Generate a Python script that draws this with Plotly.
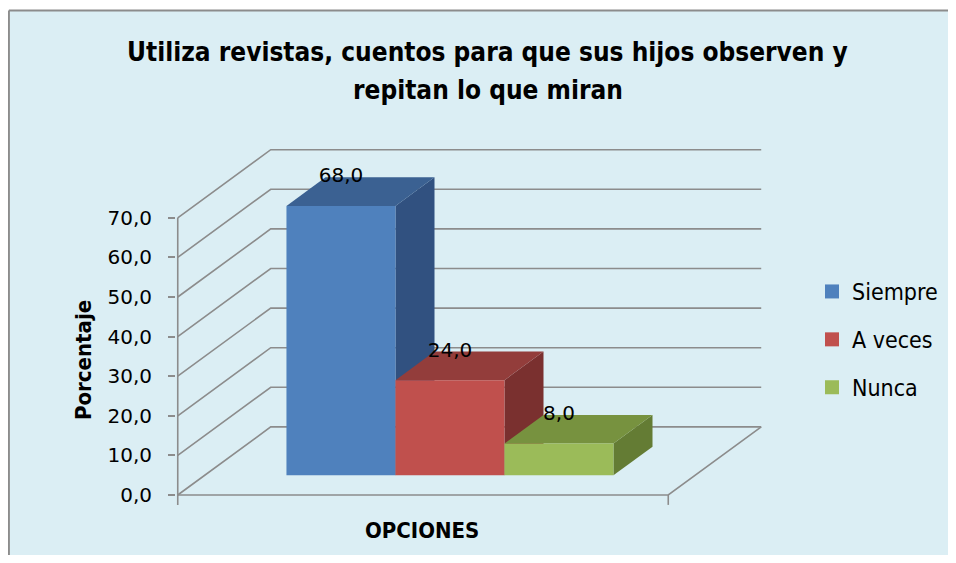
import plotly.graph_objects as go

# ---------------- data ----------------
CATEGORIES = ["Siempre", "A veces", "Nunca"]
VALUES = [68.0, 24.0, 8.0]
Y_TICKS = [0, 10, 20, 30, 40, 50, 60, 70]
Y_TICK_LABELS = ["0,0", "10,0", "20,0", "30,0", "40,0", "50,0", "60,0", "70,0"]
VALUE_LABELS = ["68,0", "24,0", "8,0"]
TITLE_LINES = ["Utiliza revistas, cuentos para que sus hijos observen y",
               "repitan lo que miran"]
Y_TITLE = "Porcentaje"
X_TITLE = "OPCIONES"

# ---------------- styling ----------------
FRONT_COLORS = ["#4F81BD", "#C0504D", "#9BBB59"]
TOP_COLORS = ["#3B6192", "#933D3B", "#77923F"]
SIDE_COLORS = ["#315180", "#7A302F", "#647C34"]
GRID = "#8C8C8C"
BG = "#DBEEF4"
NARROW = "Liberation Sans Narrow, Arial Narrow, DejaVu Sans Condensed, sans-serif"
NUMFONT = "DejaVu Sans, sans-serif"

PAGE_OFF = 8                      # default body margin of the html page
W, H = 956 - 2 * PAGE_OFF, 563 - 2 * PAGE_OFF


def fx(px):
    return (px - PAGE_OFF) / W


def fy(py):
    return 1 - (py - PAGE_OFF) / H


# pixel calibration (page px) of the projected oblique 3D box
X0_PX, X_UNIT_PX = 314.0, 109.0
Y0_PX, Y_UNIT_PX = 495.0, 3.96
DOM_L, DOM_R, DOM_T, DOM_B = 176.0, 800.0, 130.0, 520.0

# 3D geometry (axis units)
X_LEFT, X_RIGHT = -1.25, 3.25
DX, DY = 0.853, 17.2
D0, D1 = 0.29, 0.71
BAR_W = 1.0

xr = [(DOM_L - X0_PX) / X_UNIT_PX, (DOM_R - X0_PX) / X_UNIT_PX]
yr = [(Y0_PX - DOM_B) / Y_UNIT_PX, (Y0_PX - DOM_T) / Y_UNIT_PX]

fig = go.Figure()

# ---- walls / gridlines ----
wx, wy = [], []
for t in Y_TICKS:
    wx += [X_LEFT, X_LEFT + DX, X_RIGHT + DX, None]
    wy += [t, t + DY, t + DY, None]
wx += [X_LEFT, X_RIGHT, X_RIGHT + DX, None]
wy += [0, 0, DY, None]
wx += [X_LEFT, X_LEFT, None, X_RIGHT, X_RIGHT, None]
wy += [max(Y_TICKS), -2.5, None, 0, -2.5, None]
fig.add_trace(go.Scatter(x=wx, y=wy, mode="lines", line=dict(color=GRID, width=1.6),
                         hoverinfo="skip", showlegend=False))

# ---- 3D bars ----
ddx, ddy = (D1 - D0) * DX, (D1 - D0) * DY
lab_x, lab_y = [], []
for i, v in enumerate(VALUES):
    x0 = i - BAR_W / 2 + D0 * DX
    x1 = i + BAR_W / 2 + D0 * DX
    yb = D0 * DY
    yt = yb + v
    faces = [
        ([x1, x1 + ddx, x1 + ddx, x1, x1], [yb, yb + ddy, yt + ddy, yt, yb], SIDE_COLORS[i]),
        ([x0, x1, x1 + ddx, x0 + ddx, x0], [yt, yt, yt + ddy, yt + ddy, yt], TOP_COLORS[i]),
        ([x0, x1, x1, x0, x0], [yb, yb, yt, yt, yb], FRONT_COLORS[i]),
    ]
    for fxs, fys, c in faces:
        fig.add_trace(go.Scatter(x=fxs, y=fys, mode="lines", fill="toself", fillcolor=c,
                                 line=dict(width=0, color=c), hoverinfo="skip",
                                 showlegend=False))
    lab_x.append((x0 + x1) / 2)
    lab_y.append(yt + ddy)

fig.add_trace(go.Scatter(x=lab_x, y=lab_y, mode="text", text=VALUE_LABELS,
                         textposition="middle center", cliponaxis=False,
                         textfont=dict(family=NUMFONT, size=20, color="#000000"),
                         hoverinfo="skip", showlegend=False))

# ---- legend entries ----
for i, name in enumerate(CATEGORIES):
    fig.add_trace(go.Scatter(x=[None], y=[None], mode="markers", name=name,
                             legendgroup=name,
                             marker=dict(symbol="square", size=14, color=FRONT_COLORS[i],
                                         line=dict(width=0))))

fig.update_layout(
    width=W, height=H,
    margin=dict(l=0, r=0, t=0, b=0),
    paper_bgcolor="#FFFFFF",
    plot_bgcolor="rgba(0,0,0,0)",
    xaxis=dict(domain=[fx(DOM_L), fx(DOM_R)], range=xr, showgrid=False, zeroline=False,
               showticklabels=False, ticks="", showline=False, fixedrange=True),
    yaxis=dict(domain=[fy(DOM_B), fy(DOM_T)], range=yr, showgrid=False,
               zeroline=False, showline=False, tickvals=Y_TICKS, ticktext=Y_TICK_LABELS,
               ticks="outside", ticklen=7, tickwidth=1.6, tickcolor=GRID,
               ticklabelstandoff=12,
               tickfont=dict(family=NUMFONT, size=20, color="#000000"), fixedrange=True),
    legend=dict(x=fx(812), xanchor="left", y=fy(270), yanchor="top",
                bgcolor="rgba(0,0,0,0)", tracegroupgap=15,
                font=dict(family=NARROW, size=23, color="#000000")),
    shapes=[
        dict(type="rect", xref="paper", yref="paper", x0=0.9 / W, x1=1.0,
             y0=0.0, y1=fy(10.5), fillcolor=BG, line=dict(width=0), layer="below"),
        dict(type="line", xref="paper", yref="paper", x0=0.9 / W, x1=1.0,
             y0=fy(10.5), y1=fy(10.5), line=dict(color=GRID, width=2), layer="below"),
        dict(type="line", xref="paper", yref="paper", x0=0.9 / W, x1=0.9 / W,
             y0=0.0, y1=fy(10.5), line=dict(color=GRID, width=2), layer="below"),
    ],
    annotations=[
        dict(text=TITLE_LINES[0], xref="paper", yref="paper", x=fx(488), y=fy(52),
             showarrow=False, xanchor="center", yanchor="middle",
             font=dict(family=NARROW, size=26, color="#000000", weight="bold")),
        dict(text=TITLE_LINES[1], xref="paper", yref="paper", x=fx(488), y=fy(90),
             showarrow=False, xanchor="center", yanchor="middle",
             font=dict(family=NARROW, size=26, color="#000000", weight="bold")),
        dict(text=Y_TITLE, xref="paper", yref="paper", x=fx(83), y=fy(360),
             textangle=-90, showarrow=False, xanchor="center", yanchor="middle",
             font=dict(family=NARROW, size=22, color="#000000", weight="bold")),
        dict(text=X_TITLE, xref="paper", yref="paper", x=fx(422), y=fy(530),
             showarrow=False, xanchor="center", yanchor="middle",
             font=dict(family=NARROW, size=22, color="#000000", weight="bold")),
    ],
)

fig.write_html("out.html")
